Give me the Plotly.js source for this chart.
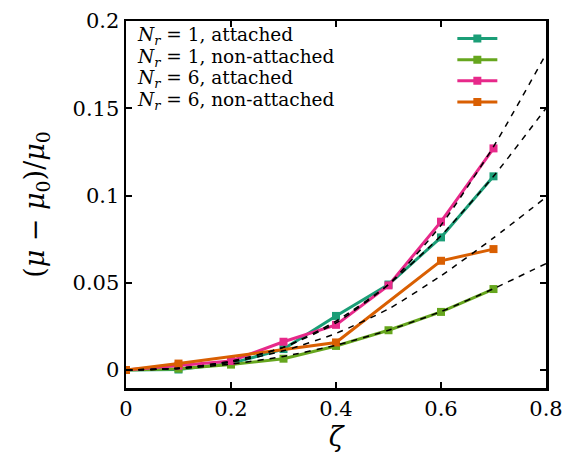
<!DOCTYPE html>
<html>
<head>
<meta charset="utf-8">
<script src="https://cdn.plot.ly/plotly-3.0.1.min.js"></script>
<style>html,body{margin:0;padding:0;background:#fff;}#chart{width:566px;height:456px;}</style>
</head>
<body>
<div id="chart"></div>
<script>
// Simulation data
const zeta = [0, 0.1, 0.2, 0.3, 0.4, 0.5, 0.6, 0.7];
const n1Attached = [0, 0.0003, 0.0038, 0.012, 0.031, 0.049, 0.076, 0.111];
const n1NonAttached = [0, 0.0008, 0.0031, 0.0065, 0.0138, 0.0228, 0.0333, 0.0464];
const n6Attached = [0, 0.0025, 0.0052, 0.0162, 0.0259, 0.0485, 0.085, 0.127];
const zetaN6Non = [0, 0.1, 0.4, 0.6, 0.7];
const n6NonAttached = [0, 0.0037, 0.0158, 0.0626, 0.0693];

// Dashed fit curves
const fitZeta = [0, 0.1, 0.2, 0.3, 0.4, 0.5, 0.6, 0.7, 0.8];
const fitN6Att = [0, 0.001, 0.005, 0.013, 0.027, 0.049, 0.083, 0.128, 0.181];
const fitN1Att = [0, 0.001, 0.005, 0.013, 0.028, 0.049, 0.077, 0.111, 0.150];
const fitN6Non = [0, 0.001, 0.0045, 0.011, 0.021, 0.035, 0.054, 0.0757, 0.099];
const fitN1Non = [0, 0.0008, 0.0034, 0.0078, 0.0142, 0.0228, 0.0335, 0.0466, 0.061];

const labels = [
  "<i>N<sub>r</sub></i> = 1, attached",
  "<i>N<sub>r</sub></i> = 1, non-attached",
  "<i>N<sub>r</sub></i> = 6, attached",
  "<i>N<sub>r</sub></i> = 6, non-attached"
];
const colors = ["#1b9e77", "#66a61e", "#e7298a", "#d95f02"];

function series(x, y, c) {
  return {x: x, y: y, type: "scatter", mode: "lines+markers", name: " ",
    line: {color: c, width: 3}, marker: {symbol: "square", size: 8, color: c}};
}
function fit(y) {
  return {x: fitZeta, y: y, type: "scatter", mode: "lines", showlegend: false,
    line: {color: "#000", width: 1.5, dash: "6px,6px", shape: "spline", smoothing: 0.6}};
}

const data = [
  series(zeta, n1Attached, colors[0]),
  series(zeta, n1NonAttached, colors[1]),
  series(zeta, n6Attached, colors[2]),
  series(zetaN6Non, n6NonAttached, colors[3]),
  fit(fitN6Att), fit(fitN1Att), fit(fitN6Non), fit(fitN1Non)
];

const FONT = "DejaVu Serif";
const rowY = [0.958, 0.899, 0.841, 0.783];
const annotations = labels.map((t, i) => ({
  text: t, xref: "paper", yref: "paper", x: 0.022, y: rowY[i],
  xanchor: "left", yanchor: "middle", showarrow: false,
  font: {family: FONT, size: 18.5, color: "#000"}
}));

const layout = {
  width: 566, height: 456,
  margin: {l: 126, r: 20, t: 21, b: 68},
  paper_bgcolor: "#fff", plot_bgcolor: "#fff",
  font: {family: FONT, color: "#000"},
  showlegend: true,
  legend: {x: 0.777, y: 0.995, xanchor: "left", yanchor: "top",
    bgcolor: "rgba(0,0,0,0)", font: {size: 14, family: FONT}, itemwidth: 40,
    tracegroupgap: 0},
  xaxis: {range: [0, 0.8], dtick: 0.2, tick0: 0, showgrid: false, zeroline: false,
    showline: true, linecolor: "#000", linewidth: 2.5, mirror: "allticks",
    ticks: "inside", ticklen: 6, tickwidth: 2, tickcolor: "#000",
    tickfont: {family: FONT, size: 21},
    title: {text: "<i>ζ</i>", font: {family: FONT, size: 27}, standoff: 8}},
  yaxis: {range: [-0.0103, 0.2], dtick: 0.05, tick0: 0, showgrid: false, zeroline: false,
    showline: true, linecolor: "#000", linewidth: 2.5, mirror: "allticks",
    ticks: "inside", ticklen: 6, tickwidth: 2, tickcolor: "#000",
    tickfont: {family: FONT, size: 21},
    title: {text: "(<i>μ</i> − <i>μ</i><sub>0</sub>)/<i>μ</i><sub>0</sub>", font: {family: FONT, size: 27}, standoff: 20}},
  annotations: annotations
};

Plotly.newPlot("chart", data, layout, {displayModeBar: false, staticPlot: true});
</script>
</body>
</html>
